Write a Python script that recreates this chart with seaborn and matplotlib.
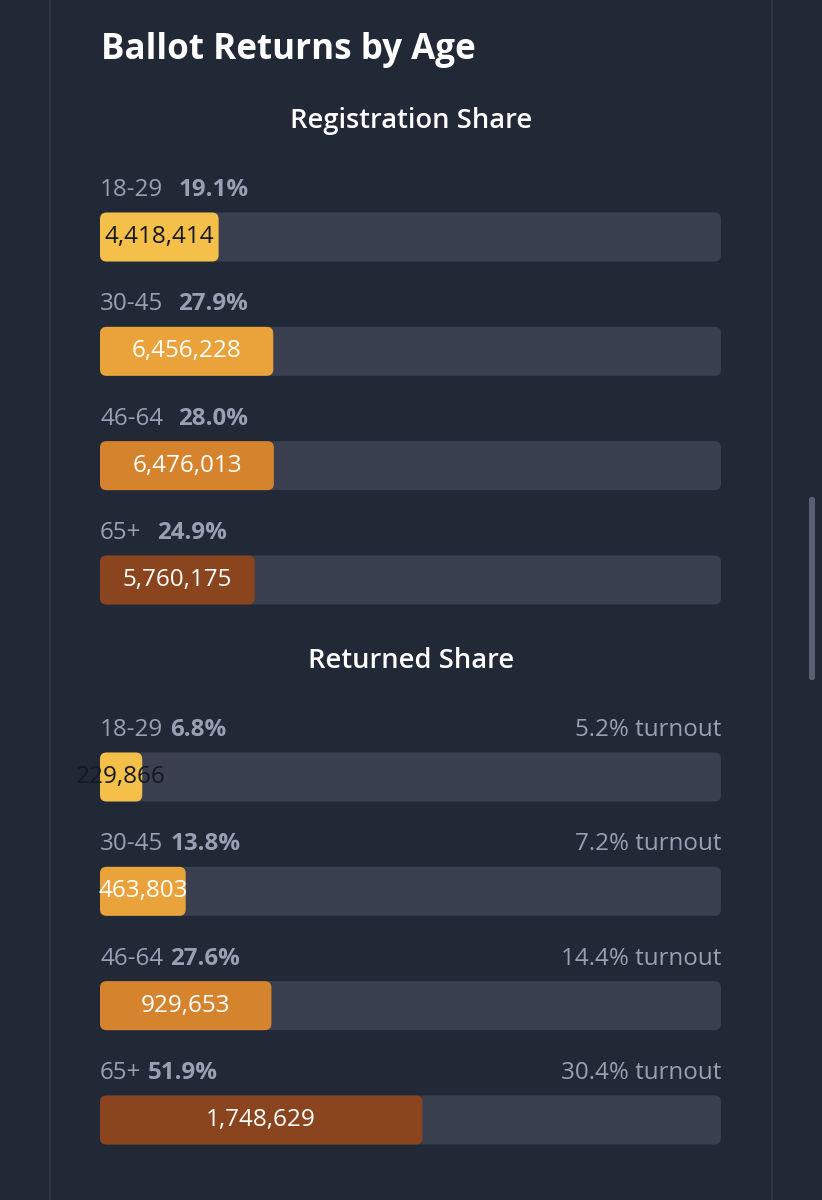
import matplotlib
matplotlib.use("Agg")
import matplotlib.pyplot as plt
import seaborn as sns
from matplotlib.patches import FancyBboxPatch

ages = ["18-29", "30-45", "46-64", "65+"]
reg_share = [19.1, 27.9, 28.0, 24.9]
reg_count = [4418414, 6456228, 6476013, 5760175]
ret_share = [6.8, 13.8, 27.6, 51.9]
ret_count = [229866, 463803, 929653, 1748629]
turnout = [5.2, 7.2, 14.4, 30.4]

bg = "#212836"
track = "#3a4050"
colors = ["#f4c04a", "#eaa23b", "#d6832e", "#8b451e"]
txt_cols = ["#15181f", "white", "white", "white"]
grey = "#98a1b3"

sns.set_theme(style="white")
plt.rcParams["font.family"] = ["Open Sans", "DejaVu Sans"]

W, H = 822, 1200
fig = plt.figure(figsize=(W / 100, H / 100), dpi=100, facecolor=bg)

# panel borders + scrollbar
fig.add_artist(plt.Line2D([50 / W, 50 / W], [0, 1], color="#323a4c", lw=1.2))
fig.add_artist(plt.Line2D([772 / W, 772 / W], [0, 1], color="#323a4c", lw=1.2))
fig.add_artist(FancyBboxPatch((809 / W, 1 - 680 / H), 6 / W, 183 / H,
                              boxstyle="round,pad=0,rounding_size=0.003",
                              mutation_aspect=W / H, fc="#5a6172", ec="none",
                              transform=fig.transFigure))

fig.text(101 / W, 1 - 50 / H, "Ballot Returns by Age", color="white",
         fontsize=25.2, fontweight="bold", ha="left", va="center")
fig.text(411 / W, 1 - 121 / H, "Registration Share", color="white",
         fontsize=19.7, fontweight="semibold", ha="center", va="center")
fig.text(411 / W, 1 - 661 / H, "Returned Share", color="white",
         fontsize=19.7, fontweight="semibold", ha="center", va="center")

step = 114.33
x0, x1 = 100, 721
px_x = (x1 - x0) / 100.0
rad_px = 6.5


def rounded(ax):
    for p in list(ax.patches):
        x, y = p.get_x(), p.get_y()
        w, h = p.get_width(), p.get_height()
        fb = FancyBboxPatch((x, y), w, h,
                            boxstyle=f"round,pad=0,rounding_size={rad_px / px_x}",
                            mutation_aspect=(1 / step) / (1 / px_x),
                            fc=p.get_facecolor(), ec="none", zorder=p.get_zorder())
        p.remove()
        ax.add_patch(fb)


def section(first_center, shares, counts, gap, turn=None):
    top = first_center - 0.5 * step
    ax = fig.add_axes([x0 / W, 1 - (top + 4 * step) / H, (x1 - x0) / W, 4 * step / H])
    ax.set_facecolor("none")
    sns.barplot(x=[100] * 4, y=ages, color=track, width=49 / step, ax=ax,
                orient="h", saturation=1)
    sns.barplot(x=shares, y=ages, hue=ages, palette=colors, width=49 / step,
                ax=ax, orient="h", saturation=1, legend=False)
    rounded(ax)
    ax.set_xlim(0, 100)
    ax.set_ylim(3.5, -0.5)
    ax.axis("off")
    for i in range(4):
        ly = i - 47 / step
        t = ax.text(0, ly, ages[i], color=grey, fontsize=17.4,
                    ha="left", va="center")
        ax.annotate(f"{shares[i]:.1f}%", xy=(1, 0.5), xycoords=t,
                    xytext=(gap, 0), textcoords="offset points",
                    color=grey, fontsize=17.4, fontweight="bold",
                    ha="left", va="center")
        if turn is not None:
            ax.text(100, ly, f"{turn[i]:.1f}% turnout", color=grey,
                    fontsize=17.4, ha="right", va="center")
        ax.text(shares[i] / 2, i, f"{counts[i]:,}", color=txt_cols[i],
                fontsize=17.5, ha="center", va="center", clip_on=False)
    return ax


section(237, reg_share, reg_count, 11)
section(777, ret_share, ret_count, 5, turnout)

fig.savefig("out.png", dpi=100, facecolor=bg)
